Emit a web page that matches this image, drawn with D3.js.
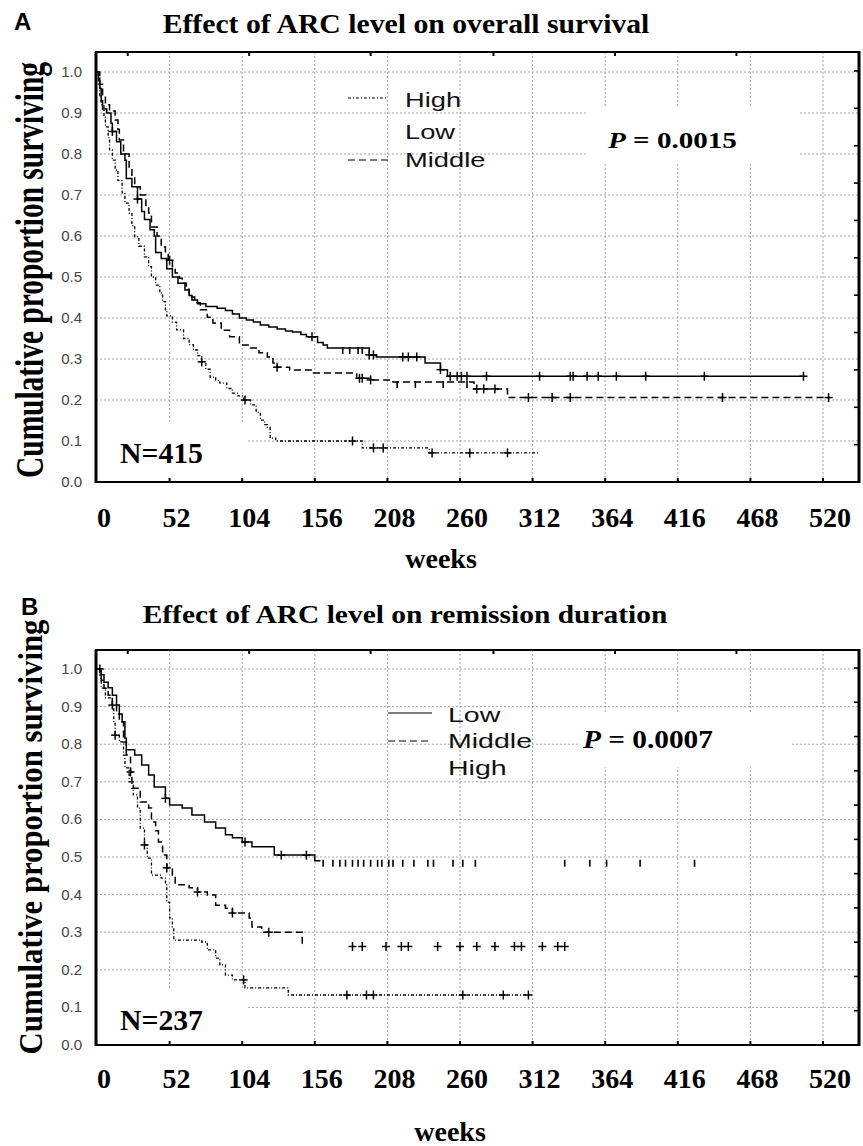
<!DOCTYPE html>
<html><head><meta charset="utf-8">
<script src="https://cdn.jsdelivr.net/npm/d3@7"></script>
<style>body{margin:0;background:#fff}</style>
</head><body>
<svg id="c" width="863" height="1146" xmlns="http://www.w3.org/2000/svg"></svg>
<script>
// ---------------- DATA ----------------
const xTickWeeks = [0, 52, 104, 156, 208, 260, 312, 364, 416, 468, 520];
const yTickValues = [0.0, 0.1, 0.2, 0.3, 0.4, 0.5, 0.6, 0.7, 0.8, 0.9, 1.0];
const topTickWeeks = [22, 109, 196, 284, 371, 458];
const legendA = ["High", "Low", "Middle"];
const legendB = ["Low", "Middle", "High"];
const titleA = "Effect of ARC level on overall survival";
const titleB = "Effect of ARC level on remission duration";
const pValueA = "0.0015", pValueB = "0.0007";
const nA = 415, nB = 237;

// Panel A: overall survival, step points [week, proportion]
const osLow = [[0,1],[1,0.985],[2,0.96],[3,0.93],[4,0.91],[7,0.90],[10,0.875],[11,0.855],[14,0.83],[17,0.80],[20,0.785],[21,0.74],[25,0.72],[29,0.69],[32,0.66],[34,0.64],[38,0.615],[41,0.60],[42,0.56],[46,0.545],[50,0.52],[54,0.50],[58,0.485],[63,0.468],[66,0.455],[68,0.444],[72,0.435],[78,0.428],[86,0.424],[92,0.418],[97,0.41],[102,0.40],[107,0.395],[112,0.39],[117,0.383],[123,0.378],[129,0.373],[135,0.368],[140,0.366],[146,0.36],[150,0.354],[158,0.34],[162,0.334],[165,0.327],[195,0.31],[200,0.305],[235,0.29],[246,0.274],[251,0.258]];
const osLowEnd = 506;
const osLowCens = [11,29,154,195,198,219,223,229,246,253,258,261,265,279,317,339,341,351,359,372,393,435,506];
const osLowTicks = [176,181,187,190];

const osMid = [[0,1],[2,0.97],[4,0.94],[6,0.92],[9,0.905],[13,0.883],[15,0.86],[16,0.834],[19,0.80],[23,0.768],[25,0.745],[27,0.72],[31,0.70],[35,0.675],[37,0.656],[39,0.622],[43,0.60],[46,0.573],[49,0.555],[51,0.541],[54,0.525],[56,0.51],[59,0.497],[61,0.485],[64,0.47],[66,0.451],[70,0.437],[74,0.42],[79,0.402],[83,0.388],[89,0.37],[95,0.354],[102,0.334],[110,0.327],[116,0.315],[122,0.305],[126,0.29],[129,0.28],[138,0.273],[155,0.266],[186,0.253],[196,0.249],[212,0.244],[270,0.227],[294,0.206]];
const osMidEnd = 525;
const osMidCens = [52,129,188,190,196,272,277,285,309,326,339,448,524];
const osMidTicks = [215,228,248,265];

const osHigh = [[0,1],[1,0.97],[2,0.94],[3,0.92],[5,0.89],[6,0.866],[8,0.84],[9,0.81],[11,0.785],[13,0.761],[15,0.735],[18,0.705],[20,0.68],[23,0.656],[25,0.625],[27,0.598],[30,0.575],[34,0.549],[37,0.525],[39,0.50],[42,0.48],[45,0.461],[47,0.44],[49,0.42],[50,0.405],[54,0.39],[57,0.371],[62,0.35],[66,0.335],[69,0.322],[72,0.308],[75,0.293],[78,0.275],[81,0.256],[85,0.248],[88,0.241],[93,0.228],[97,0.217],[101,0.21],[105,0.20],[110,0.188],[114,0.17],[117,0.151],[120,0.14],[122,0.134],[124,0.107],[128,0.10],[190,0.083],[238,0.071]];
const osHighEnd = 316;
const osHighCens = [75,106,183,198,205,240,267,294];

// Panel B: remission duration
const rdLow = [[0,1],[3,0.985],[5,0.965],[8,0.95],[11,0.93],[14,0.904],[16,0.88],[18,0.86],[20,0.816],[21,0.785],[27,0.771],[32,0.745],[37,0.718],[41,0.686],[49,0.656],[52,0.638],[61,0.63],[68,0.612],[77,0.593],[85,0.577],[92,0.559],[97,0.551],[104,0.54],[111,0.527],[127,0.505],[156,0.49]];
const rdLowEnd = 160;
const rdLowCens = [2,49,106,132,150];
const rdLowTicks = [162,169,174,178,183,187,191,196,201,204,209,212,219,227,237,241,255,262,271,335,353,365,389,428];

const rdMid = [[0,1],[3,0.97],[5,0.949],[8,0.93],[11,0.904],[14,0.88],[16,0.86],[19,0.806],[21,0.771],[24,0.726],[25,0.683],[31,0.646],[37,0.63],[39,0.593],[42,0.57],[44,0.54],[47,0.505],[50,0.471],[54,0.452],[56,0.426],[66,0.418],[72,0.407],[79,0.399],[85,0.372],[92,0.364],[97,0.351],[109,0.338],[111,0.314],[118,0.30],[147,0.262]];
const rdMidEnd = 148;
const rdMidCens = [11,24,50,72,97,123,183,190,207,218,223,244,260,272,285,299,304,319,330,335];

const rdHigh = [[0,1],[2,0.984],[3,0.949],[6,0.923],[11,0.896],[12,0.86],[13,0.824],[16,0.806],[19,0.771],[20,0.737],[23,0.70],[26,0.665],[29,0.63],[31,0.577],[34,0.532],[36,0.497],[39,0.452],[46,0.444],[49,0.426],[50,0.38],[52,0.338],[54,0.311],[55,0.279],[75,0.274],[79,0.253],[85,0.231],[88,0.213],[92,0.186],[97,0.173],[106,0.152],[137,0.133]];
const rdHighEnd = 311;
const rdHighCens = [13,34,105,179,193,198,262,291,309];

// ---------------- STYLES ----------------
const SERIF = "'Liberation Serif','Times New Roman',serif";
const SANS = "'Liberation Sans',Arial,sans-serif";
const STY = {
  Low:    {dash: null, width: 1.5},
  Middle: {dash: "7,4", width: 1.5},
  High:   {dash: "3,2,1,2", width: 1.3}
};

const svg = d3.select("#c");

function addText(parent, x, y, parts, o) {
  const g = parent.append("g").attr("transform", `translate(${x},${y})` + (o.rotate ? ` rotate(${o.rotate})` : ""));
  const t = g.append("text")
    .attr("font-family", o.family).attr("font-size", o.size)
    .attr("font-weight", o.weight || "normal")
    .attr("text-anchor", o.anchor || "start")
    .attr("fill", o.fill || "#000");
  parts.forEach(p => t.append("tspan").text(p.t).attr("font-style", p.italic ? "italic" : null));
  if (o.width) {
    const w = t.node().getComputedTextLength();
    t.attr("transform", `scale(${o.width / w},1)`);
  } else if (o.sx) {
    t.attr("transform", `scale(${o.sx},1)`);
  }
  return t;
}

function valAt(steps, w) {
  let v = steps[0][1];
  for (const [t, s] of steps) if (t <= w) v = s;
  return v;
}

function drawPanel(p) {
  const g = svg.append("g");
  const x = d3.scaleLinear().domain([0, 520]).range([97, 823]);
  const y = d3.scaleLinear().domain([0, 1]).range([p.bottom, p.y1]);
  const L = 96, R = 859;

  // grid
  const gridY = yTickValues.filter(v => v > 0);
  g.selectAll(".gh").data(gridY).join("line")
    .attr("x1", L).attr("x2", R).attr("y1", d => y(d)).attr("y2", d => y(d))
    .attr("stroke", "#9a9a9a").attr("stroke-width", 0.9).attr("stroke-dasharray", "2,2");
  g.selectAll(".gv").data(xTickWeeks.filter(w => w > 0)).join("line")
    .attr("x1", d => x(d)).attr("x2", d => x(d)).attr("y1", p.top).attr("y2", p.bottom)
    .attr("stroke", "#9a9a9a").attr("stroke-width", 0.9).attr("stroke-dasharray", "2,2");

  // white boxes behind annotations
  p.boxes.forEach(b => g.append("rect").attr("x", b[0]).attr("y", b[1]).attr("width", b[2] - b[0]).attr("height", b[3] - b[1]).attr("fill", "#fff"));

  // curves
  const line = d3.line().x(d => x(d[0])).y(d => y(d[1])).curve(d3.curveStepAfter);
  p.series.forEach(s => {
    const st = STY[s.name];
    const pts = s.steps.concat([[s.end, s.steps[s.steps.length - 1][1]]]);
    g.append("path").attr("d", line(pts)).attr("fill", "none").attr("stroke", "#000")
      .attr("stroke-width", st.width).attr("stroke-dasharray", st.dash);
    (s.cens || []).forEach(w => {
      const cx = x(w), cy = y(valAt(s.steps, w));
      g.append("line").attr("x1", cx - 4).attr("x2", cx + 4).attr("y1", cy).attr("y2", cy).attr("stroke", "#000").attr("stroke-width", 1.5);
      g.append("line").attr("x1", cx).attr("x2", cx).attr("y1", cy - 4.5).attr("y2", cy + 4.5).attr("stroke", "#000").attr("stroke-width", 1.5);
    });
    (s.ticks || []).forEach(w => {
      const cx = x(w), cy = y(valAt(s.steps, w));
      g.append("line").attr("x1", cx).attr("x2", cx).attr("y1", cy - 1).attr("y2", cy + 6).attr("stroke", "#000").attr("stroke-width", 1.6);
    });
  });

  // frame
  g.append("rect").attr("x", L).attr("y", p.top).attr("width", R - L).attr("height", p.bottom - p.top)
    .attr("fill", "none").attr("stroke", "#000").attr("stroke-width", 2);
  g.append("line").attr("x1", L).attr("x2", L).attr("y1", p.top).attr("y2", p.bottom + 1).attr("stroke", "#000").attr("stroke-width", 3);
  g.append("line").attr("x1", R).attr("x2", R).attr("y1", p.top - 1).attr("y2", p.bottom + 1).attr("stroke", "#000").attr("stroke-width", 3);

  // small inward ticks
  g.selectAll(".bt").data(xTickWeeks.filter(w => w > 0)).join("line")
    .attr("x1", d => x(d)).attr("x2", d => x(d)).attr("y1", p.bottom).attr("y2", p.bottom - 4)
    .attr("stroke", "#000").attr("stroke-width", 2);
  g.selectAll(".tt").data(topTickWeeks).join("line")
    .attr("x1", d => x(d)).attr("x2", d => x(d)).attr("y1", p.top).attr("y2", p.top + 4)
    .attr("stroke", "#000").attr("stroke-width", 2);
  const rt = d3.scaleLinear().domain([0, 11]).range([p.bottom, p.y1 - 1]);
  g.selectAll(".rt").data(d3.range(1, 12)).join("line")
    .attr("x1", R).attr("x2", R - 5).attr("y1", d => rt(d)).attr("y2", d => rt(d))
    .attr("stroke", "#000").attr("stroke-width", 1.6);

  // y tick labels
  yTickValues.forEach(v => addText(g, 82, y(v) + 5, [{t: v.toFixed(1)}], {family: SANS, size: 15, anchor: "end", fill: "#444"}));
  // x tick labels
  xTickWeeks.forEach(w => addText(g, x(w) + 7, p.xLabelY, [{t: String(w)}], {family: SERIF, size: 28, weight: "bold", anchor: "middle"}));
  // x title
  addText(g, p.weeksX, p.weeksY, [{t: "weeks"}], {family: SERIF, size: 28, weight: "bold", anchor: "middle"});
  // y title
  addText(g, p.yTitleX, p.yTitleY, [{t: "Cumulative proportion surviving"}], {family: SERIF, size: p.yTitleSize, weight: "bold", anchor: "middle", rotate: -90, width: p.yTitleLen});
  // panel letter
  addText(g, p.letterX, p.letterY, [{t: p.letter}], {family: SANS, size: 24, weight: "bold"});
  // title
  addText(g, p.titleX, p.titleY, [{t: p.title}], {family: SERIF, size: p.titleSize, weight: "bold", anchor: "middle", width: p.titleW});
  // N label
  addText(g, 120, p.nY, [{t: "N=" + p.n}], {family: SERIF, size: 29, weight: "bold", width: 83});
  // P value
  addText(g, p.pX, p.pY, [{t: "P", italic: true}, {t: " = " + p.pv}], {family: SERIF, size: p.pSize, weight: "bold", width: p.pW});

  // legend
  p.legend.forEach((name, i) => {
    const ly = p.legY[i];
    if (p.legSample[i] !== null) {
      const st = STY[name];
      g.append("line").attr("x1", p.legSX[0]).attr("x2", p.legSX[1]).attr("y1", p.legSample[i]).attr("y2", p.legSample[i])
        .attr("stroke", "#000").attr("stroke-width", 1.2).attr("stroke-dasharray", st.dash);
    }
    addText(g, p.legX, ly, [{t: name}], {family: SANS, size: 21, fill: "#111", sx: p.legSx});
  });
}

drawPanel({
  top: 52, bottom: 482, y1: 72,
  letter: "A", letterX: 14, letterY: 30,
  title: titleA, titleX: 406, titleY: 33, titleSize: 27, titleW: 487,
  xLabelY: 527, weeksX: 441, weeksY: 568,
  yTitleX: 43, yTitleY: 270, yTitleSize: 40, yTitleLen: 416,
  n: nA, nY: 463,
  pv: pValueA, pX: 608, pY: 148, pSize: 24, pW: 129,
  boxes: [[97, 424, 246, 481], [587, 107, 800, 164]],
  legend: legendA, legX: 405, legY: [107, 139, 167], legSample: [98, null, 160], legSX: [348, 388], legSx: 1.3,
  series: [
    {name: "Low", steps: osLow, end: osLowEnd, cens: osLowCens, ticks: osLowTicks},
    {name: "Middle", steps: osMid, end: osMidEnd, cens: osMidCens, ticks: osMidTicks},
    {name: "High", steps: osHigh, end: osHighEnd, cens: osHighCens}
  ]
});

drawPanel({
  top: 650, bottom: 1045, y1: 669,
  letter: "B", letterX: 21, letterY: 615,
  title: titleB, titleX: 405, titleY: 623, titleSize: 25, titleW: 525,
  xLabelY: 1088, weeksX: 450, weeksY: 1141,
  yTitleX: 42, yTitleY: 837, yTitleSize: 33, yTitleLen: 435,
  n: nB, nY: 1030,
  pv: pValueB, pX: 583, pY: 748, pSize: 26, pW: 130,
  boxes: [[97, 988, 246, 1044], [578, 713, 790, 767]],
  legend: legendB, legX: 448, legY: [722, 748, 775], legSample: [713, 741, null], legSX: [388, 432], legSx: 1.36,
  series: [
    {name: "Low", steps: rdLow, end: rdLowEnd, cens: rdLowCens, ticks: rdLowTicks},
    {name: "Middle", steps: rdMid, end: rdMidEnd, cens: rdMidCens},
    {name: "High", steps: rdHigh, end: rdHighEnd, cens: rdHighCens}
  ]
});
</script>
</body></html>
